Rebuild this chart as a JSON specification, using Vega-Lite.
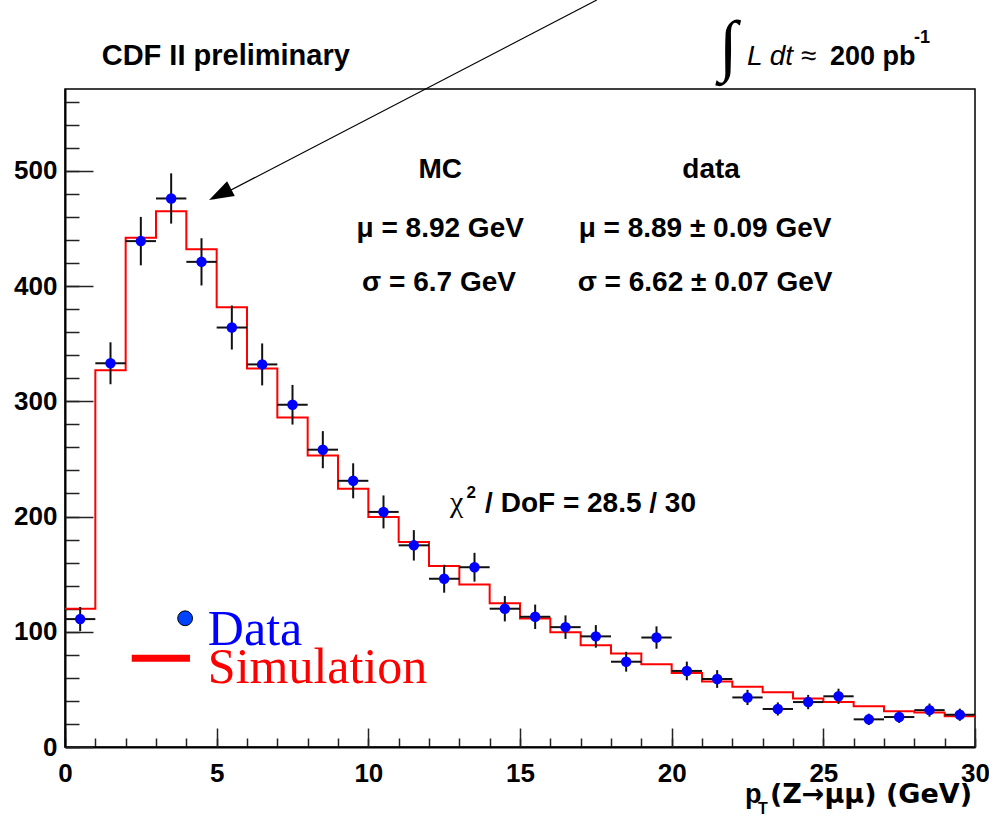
{
  "$schema": "https://vega.github.io/schema/vega-lite/v6.json",
  "width": 910,
  "height": 658,
  "autosize": {"type": "none"},
  "padding": {"left": 65, "top": 89, "right": 14, "bottom": 70},
  "background": "white",
  "config": {
    "view": {"stroke": "black", "strokeWidth": 1.5},
    "axis": {
      "domainColor": "black", "domainWidth": 2, "tickColor": "#222", "tickWidth": 1.5,
      "labelFont": "Liberation Sans", "labelFontWeight": "bold", "labelFontSize": 26,
      "labelColor": "black", "grid": false, "title": null, "labelFlush": false
    }
  },
  "datasets": {
    "bins": [
      {"c": 0.5, "lo": 0, "hi": 1, "n": 111, "nlo": 100.5, "nhi": 121.5},
      {"c": 1.5, "lo": 1, "hi": 2, "n": 333, "nlo": 314.8, "nhi": 351.2},
      {"c": 2.5, "lo": 2, "hi": 3, "n": 439, "nlo": 418, "nhi": 460},
      {"c": 3.5, "lo": 3, "hi": 4, "n": 476, "nlo": 454.2, "nhi": 497.8},
      {"c": 4.5, "lo": 4, "hi": 5, "n": 421, "nlo": 400.5, "nhi": 441.5},
      {"c": 5.5, "lo": 5, "hi": 6, "n": 364, "nlo": 344.9, "nhi": 383.1},
      {"c": 6.5, "lo": 6, "hi": 7, "n": 332, "nlo": 313.8, "nhi": 350.2},
      {"c": 7.5, "lo": 7, "hi": 8, "n": 297, "nlo": 279.8, "nhi": 314.2},
      {"c": 8.5, "lo": 8, "hi": 9, "n": 258, "nlo": 241.9, "nhi": 274.1},
      {"c": 9.5, "lo": 9, "hi": 10, "n": 231, "nlo": 215.8, "nhi": 246.2},
      {"c": 10.5, "lo": 10, "hi": 11, "n": 204, "nlo": 189.7, "nhi": 218.3},
      {"c": 11.5, "lo": 11, "hi": 12, "n": 175, "nlo": 161.8, "nhi": 188.2},
      {"c": 12.5, "lo": 12, "hi": 13, "n": 146, "nlo": 133.9, "nhi": 158.1},
      {"c": 13.5, "lo": 13, "hi": 14, "n": 156, "nlo": 143.5, "nhi": 168.5},
      {"c": 14.5, "lo": 14, "hi": 15, "n": 120, "nlo": 109, "nhi": 131},
      {"c": 15.5, "lo": 15, "hi": 16, "n": 113, "nlo": 102.4, "nhi": 123.6},
      {"c": 16.5, "lo": 16, "hi": 17, "n": 104, "nlo": 93.8, "nhi": 114.2},
      {"c": 17.5, "lo": 17, "hi": 18, "n": 96, "nlo": 86.2, "nhi": 105.8},
      {"c": 18.5, "lo": 18, "hi": 19, "n": 74, "nlo": 65.4, "nhi": 82.6},
      {"c": 19.5, "lo": 19, "hi": 20, "n": 95, "nlo": 85.3, "nhi": 104.7},
      {"c": 20.5, "lo": 20, "hi": 21, "n": 66, "nlo": 57.9, "nhi": 74.1},
      {"c": 21.5, "lo": 21, "hi": 22, "n": 59, "nlo": 51.3, "nhi": 66.7},
      {"c": 22.5, "lo": 22, "hi": 23, "n": 43, "nlo": 36.4, "nhi": 49.6},
      {"c": 23.5, "lo": 23, "hi": 24, "n": 33, "nlo": 27.3, "nhi": 38.7},
      {"c": 24.5, "lo": 24, "hi": 25, "n": 39, "nlo": 32.8, "nhi": 45.2},
      {"c": 25.5, "lo": 25, "hi": 26, "n": 44, "nlo": 37.4, "nhi": 50.6},
      {"c": 26.5, "lo": 26, "hi": 27, "n": 24, "nlo": 19.1, "nhi": 28.9},
      {"c": 27.5, "lo": 27, "hi": 28, "n": 26, "nlo": 20.9, "nhi": 31.1},
      {"c": 28.5, "lo": 28, "hi": 29, "n": 32, "nlo": 26.3, "nhi": 37.7},
      {"c": 29.5, "lo": 29, "hi": 30, "n": 28, "nlo": 22.7, "nhi": 33.3}
    ],
    "mc": [
      {"e": 0, "mc": 120}, {"e": 1, "mc": 327}, {"e": 2, "mc": 442}, {"e": 3, "mc": 465},
      {"e": 4, "mc": 432}, {"e": 5, "mc": 381.5}, {"e": 6, "mc": 328.5}, {"e": 7, "mc": 286},
      {"e": 8, "mc": 253}, {"e": 9, "mc": 224}, {"e": 10, "mc": 199.5}, {"e": 11, "mc": 178},
      {"e": 12, "mc": 157}, {"e": 13, "mc": 141}, {"e": 14, "mc": 124.7}, {"e": 15, "mc": 111.6},
      {"e": 16, "mc": 99.5}, {"e": 17, "mc": 88.4}, {"e": 18, "mc": 81.2}, {"e": 19, "mc": 71.9},
      {"e": 20, "mc": 64.3}, {"e": 21, "mc": 56.8}, {"e": 22, "mc": 52.2}, {"e": 23, "mc": 47.6},
      {"e": 24, "mc": 42}, {"e": 25, "mc": 39.1}, {"e": 26, "mc": 35.4}, {"e": 27, "mc": 31},
      {"e": 28, "mc": 29.9}, {"e": 29, "mc": 26.7}, {"e": 30, "mc": 26.7}
    ]
  },
  "resolve": {"axis": {"x": "independent", "y": "independent"}},
  "layer": [
    {
      "data": {"name": "mc"},
      "mark": {"type": "line", "interpolate": "step-after", "color": "#ff0000", "strokeWidth": 2},
      "encoding": {
        "x": {"field": "e", "type": "quantitative", "scale": {"domain": [0, 30], "nice": false},
          "axis": {"orient": "bottom", "values": [0,1,2,3,4,5,6,7,8,9,10,11,12,13,14,15,16,17,18,19,20,21,22,23,24,25,26,27,28,29,30], "tickSize": -9, "labels": false, "domain": true}},
        "y": {"field": "mc", "type": "quantitative", "scale": {"domain": [0, 571], "nice": false},
          "axis": {"orient": "left", "values": [0,20,40,60,80,100,120,140,160,180,200,220,240,260,280,300,320,340,360,380,400,420,440,460,480,500,520,540,560], "tickSize": -14, "labels": false, "domain": true}}
      }
    },
    {
      "data": {"name": "bins"},
      "mark": {"type": "rule", "color": "#111", "strokeWidth": 2},
      "encoding": {
        "x": {"field": "lo", "type": "quantitative", "scale": {"domain": [0, 30], "nice": false}, "axis": null},
        "x2": {"field": "hi"},
        "y": {"field": "n", "type": "quantitative", "scale": {"domain": [0, 571], "nice": false}, "axis": null}
      }
    },
    {
      "data": {"name": "bins"},
      "mark": {"type": "rule", "color": "#111", "strokeWidth": 2},
      "encoding": {
        "x": {"field": "c", "type": "quantitative", "scale": {"domain": [0, 30], "nice": false}, "axis": null},
        "y": {"field": "nlo", "type": "quantitative", "scale": {"domain": [0, 571], "nice": false}, "axis": null},
        "y2": {"field": "nhi"}
      }
    },
    {
      "data": {"name": "bins"},
      "mark": {"type": "point", "filled": true, "shape": "circle", "color": "#0000ff", "size": 110, "opacity": 1},
      "encoding": {
        "x": {"field": "c", "type": "quantitative", "scale": {"domain": [0, 30], "nice": false},
          "axis": {"orient": "bottom", "values": [0, 5, 10, 15, 20, 25, 30], "tickSize": -19, "labelPadding": 32, "domain": false}},
        "y": {"field": "n", "type": "quantitative", "scale": {"domain": [0, 571], "nice": false},
          "axis": {"orient": "left", "values": [0, 100, 200, 300, 400, 500], "tickSize": -28, "labelPadding": 36, "domain": false}}
      }
    },
    {
      "data": {"values": [{}]},
      "mark": {"type": "text", "text": "CDF II preliminary", "align": "left", "baseline": "alphabetic", "font": "Liberation Sans", "fontWeight": "bold", "fontSize": 29, "color": "black"},
      "encoding": {
        "x": {"datum": 1.21, "type": "quantitative", "scale": {"domain": [0, 30], "nice": false}, "axis": null},
        "y": {"datum": 591.8, "type": "quantitative", "scale": {"domain": [0, 571], "nice": false}, "axis": null}
      }
    },
    {
      "data": {"values": [{}]},
      "mark": {"type": "text", "text": "∫", "align": "left", "baseline": "alphabetic", "font": "Liberation Serif", "fontSize": 68, "color": "black"},
      "encoding": {
        "x": {"datum": 21.55, "type": "quantitative", "scale": {"domain": [0, 30], "nice": false}, "axis": null},
        "y": {"datum": 589.2, "type": "quantitative", "scale": {"domain": [0, 571], "nice": false}, "axis": null}
      }
    },
    {
      "data": {"values": [{}]},
      "mark": {"type": "text", "text": "L dt ≈", "align": "left", "baseline": "alphabetic", "font": "Liberation Sans", "fontStyle": "italic", "fontSize": 28, "color": "black"},
      "encoding": {
        "x": {"datum": 22.48, "type": "quantitative", "scale": {"domain": [0, 30], "nice": false}, "axis": null},
        "y": {"datum": 591.8, "type": "quantitative", "scale": {"domain": [0, 571], "nice": false}, "axis": null}
      }
    },
    {
      "data": {"values": [{}]},
      "mark": {"type": "text", "text": "200 pb", "align": "left", "baseline": "alphabetic", "font": "Liberation Sans", "fontWeight": "bold", "fontSize": 27, "color": "black"},
      "encoding": {
        "x": {"datum": 25.22, "type": "quantitative", "scale": {"domain": [0, 30], "nice": false}, "axis": null},
        "y": {"datum": 591.8, "type": "quantitative", "scale": {"domain": [0, 571], "nice": false}, "axis": null}
      }
    },
    {
      "data": {"values": [{}]},
      "mark": {"type": "text", "text": "-1", "align": "left", "baseline": "alphabetic", "font": "Liberation Sans", "fontWeight": "bold", "fontSize": 18, "color": "black"},
      "encoding": {
        "x": {"datum": 27.99, "type": "quantitative", "scale": {"domain": [0, 30], "nice": false}, "axis": null},
        "y": {"datum": 610.9, "type": "quantitative", "scale": {"domain": [0, 571], "nice": false}, "axis": null}
      }
    },
    {
      "data": {"values": [{}]},
      "mark": {"type": "text", "text": "MC", "align": "center", "baseline": "middle", "font": "Liberation Sans", "fontWeight": "bold", "fontSize": 28, "color": "black"},
      "encoding": {
        "x": {"datum": 12.37, "type": "quantitative", "scale": {"domain": [0, 30], "nice": false}, "axis": null},
        "y": {"datum": 500.7, "type": "quantitative", "scale": {"domain": [0, 571], "nice": false}, "axis": null}
      }
    },
    {
      "data": {"values": [{}]},
      "mark": {"type": "text", "text": "data", "align": "center", "baseline": "middle", "font": "Liberation Sans", "fontWeight": "bold", "fontSize": 28, "color": "black"},
      "encoding": {
        "x": {"datum": 21.3, "type": "quantitative", "scale": {"domain": [0, 30], "nice": false}, "axis": null},
        "y": {"datum": 500.7, "type": "quantitative", "scale": {"domain": [0, 571], "nice": false}, "axis": null}
      }
    },
    {
      "data": {"values": [{}]},
      "mark": {"type": "text", "text": "μ = 8.92 GeV", "align": "center", "baseline": "middle", "font": "Liberation Sans", "fontWeight": "bold", "fontSize": 28, "color": "black"},
      "encoding": {
        "x": {"datum": 12.37, "type": "quantitative", "scale": {"domain": [0, 30], "nice": false}, "axis": null},
        "y": {"datum": 449.5, "type": "quantitative", "scale": {"domain": [0, 571], "nice": false}, "axis": null}
      }
    },
    {
      "data": {"values": [{}]},
      "mark": {"type": "text", "text": "σ = 6.7 GeV", "align": "center", "baseline": "middle", "font": "Liberation Sans", "fontWeight": "bold", "fontSize": 28, "color": "black"},
      "encoding": {
        "x": {"datum": 12.33, "type": "quantitative", "scale": {"domain": [0, 30], "nice": false}, "axis": null},
        "y": {"datum": 403, "type": "quantitative", "scale": {"domain": [0, 571], "nice": false}, "axis": null}
      }
    },
    {
      "data": {"values": [{}]},
      "mark": {"type": "text", "text": "μ = 8.89 ± 0.09 GeV", "align": "center", "baseline": "middle", "font": "Liberation Sans", "fontWeight": "bold", "fontSize": 28, "color": "black"},
      "encoding": {
        "x": {"datum": 21.1, "type": "quantitative", "scale": {"domain": [0, 30], "nice": false}, "axis": null},
        "y": {"datum": 449.5, "type": "quantitative", "scale": {"domain": [0, 571], "nice": false}, "axis": null}
      }
    },
    {
      "data": {"values": [{}]},
      "mark": {"type": "text", "text": "σ = 6.62 ± 0.07 GeV", "align": "center", "baseline": "middle", "font": "Liberation Sans", "fontWeight": "bold", "fontSize": 28, "color": "black"},
      "encoding": {
        "x": {"datum": 21.1, "type": "quantitative", "scale": {"domain": [0, 30], "nice": false}, "axis": null},
        "y": {"datum": 403, "type": "quantitative", "scale": {"domain": [0, 571], "nice": false}, "axis": null}
      }
    },
    {
      "data": {"values": [{}]},
      "mark": {"type": "text", "text": "χ", "align": "left", "baseline": "alphabetic", "font": "Liberation Serif", "fontSize": 30, "color": "black"},
      "encoding": {
        "x": {"datum": 12.69, "type": "quantitative", "scale": {"domain": [0, 30], "nice": false}, "axis": null},
        "y": {"datum": 204.2, "type": "quantitative", "scale": {"domain": [0, 571], "nice": false}, "axis": null}
      }
    },
    {
      "data": {"values": [{}]},
      "mark": {"type": "text", "text": "2", "align": "left", "baseline": "alphabetic", "font": "Liberation Sans", "fontWeight": "bold", "fontSize": 17, "color": "black"},
      "encoding": {
        "x": {"datum": 13.24, "type": "quantitative", "scale": {"domain": [0, 30], "nice": false}, "axis": null},
        "y": {"datum": 215.8, "type": "quantitative", "scale": {"domain": [0, 571], "nice": false}, "axis": null}
      }
    },
    {
      "data": {"values": [{}]},
      "mark": {"type": "text", "text": "/ DoF = 28.5 / 30", "align": "left", "baseline": "alphabetic", "font": "Liberation Sans", "fontWeight": "bold", "fontSize": 28, "color": "black"},
      "encoding": {
        "x": {"datum": 13.85, "type": "quantitative", "scale": {"domain": [0, 30], "nice": false}, "axis": null},
        "y": {"datum": 204.2, "type": "quantitative", "scale": {"domain": [0, 571], "nice": false}, "axis": null}
      }
    },
    {
      "data": {"values": [{}]},
      "mark": {"type": "rule", "color": "#ff0000", "strokeWidth": 7},
      "encoding": {
        "x": {"datum": 2.2, "type": "quantitative", "scale": {"domain": [0, 30], "nice": false}, "axis": null},
        "x2": {"datum": 4.12},
        "y": {"datum": 77, "type": "quantitative", "scale": {"domain": [0, 571], "nice": false}, "axis": null}
      }
    },
    {
      "data": {"values": [{}]},
      "mark": {"type": "point", "filled": true, "shape": "circle", "color": "#0044ff", "stroke": "black", "strokeWidth": 1, "size": 220, "opacity": 1},
      "encoding": {
        "x": {"datum": 3.96, "type": "quantitative", "scale": {"domain": [0, 30], "nice": false}, "axis": null},
        "y": {"datum": 111.7, "type": "quantitative", "scale": {"domain": [0, 571], "nice": false}, "axis": null}
      }
    },
    {
      "data": {"values": [{}]},
      "mark": {"type": "text", "text": "Data", "align": "left", "baseline": "alphabetic", "font": "Liberation Serif", "fontSize": 50, "color": "#0000ff"},
      "encoding": {
        "x": {"datum": 4.71, "type": "quantitative", "scale": {"domain": [0, 30], "nice": false}, "axis": null},
        "y": {"datum": 88.5, "type": "quantitative", "scale": {"domain": [0, 571], "nice": false}, "axis": null}
      }
    },
    {
      "data": {"values": [{}]},
      "mark": {"type": "text", "text": "Simulation", "align": "left", "baseline": "alphabetic", "font": "Liberation Serif", "fontSize": 50, "color": "#ff0000"},
      "encoding": {
        "x": {"datum": 4.71, "type": "quantitative", "scale": {"domain": [0, 30], "nice": false}, "axis": null},
        "y": {"datum": 55.3, "type": "quantitative", "scale": {"domain": [0, 571], "nice": false}, "axis": null}
      }
    },
    {
      "data": {"values": [{}]},
      "mark": {"type": "rule", "color": "black", "strokeWidth": 1.2},
      "encoding": {
        "x": {"datum": 4.9, "type": "quantitative", "scale": {"domain": [0, 30], "nice": false}, "axis": null},
        "x2": {"datum": 17.53},
        "y": {"datum": 475.5, "type": "quantitative", "scale": {"domain": [0, 571], "nice": false}, "axis": null},
        "y2": {"datum": 648.2}
      }
    },
    {
      "data": {"values": [{}]},
      "mark": {"type": "point", "filled": true, "shape": "M0,0L0.34,1L-0.34,1Z", "color": "black", "size": 2420, "angle": 242.7, "opacity": 1},
      "encoding": {
        "x": {"datum": 4.75, "type": "quantitative", "scale": {"domain": [0, 30], "nice": false}, "axis": null},
        "y": {"datum": 474.7, "type": "quantitative", "scale": {"domain": [0, 571], "nice": false}, "axis": null}
      }
    },
    {
      "data": {"values": [{}]},
      "mark": {"type": "text", "text": "p", "align": "left", "baseline": "alphabetic", "font": "Liberation Sans", "fontWeight": "bold", "fontSize": 27, "color": "black"},
      "encoding": {
        "x": {"datum": 22.42, "type": "quantitative", "scale": {"domain": [0, 30], "nice": false}, "axis": null},
        "y": {"datum": -48.5, "type": "quantitative", "scale": {"domain": [0, 571], "nice": false}, "axis": null}
      }
    },
    {
      "data": {"values": [{}]},
      "mark": {"type": "text", "text": "T", "align": "left", "baseline": "alphabetic", "font": "Liberation Sans", "fontWeight": "bold", "fontSize": 16, "color": "black"},
      "encoding": {
        "x": {"datum": 22.85, "type": "quantitative", "scale": {"domain": [0, 30], "nice": false}, "axis": null},
        "y": {"datum": -58, "type": "quantitative", "scale": {"domain": [0, 571], "nice": false}, "axis": null}
      }
    },
    {
      "data": {"values": [{}]},
      "mark": {"type": "text", "text": "(Z→μμ) (GeV)", "align": "left", "baseline": "alphabetic", "font": "DejaVu Sans", "fontWeight": "bold", "fontSize": 27, "color": "black"},
      "encoding": {
        "x": {"datum": 23.24, "type": "quantitative", "scale": {"domain": [0, 30], "nice": false}, "axis": null},
        "y": {"datum": -48.5, "type": "quantitative", "scale": {"domain": [0, 571], "nice": false}, "axis": null}
      }
    }
  ]
}
